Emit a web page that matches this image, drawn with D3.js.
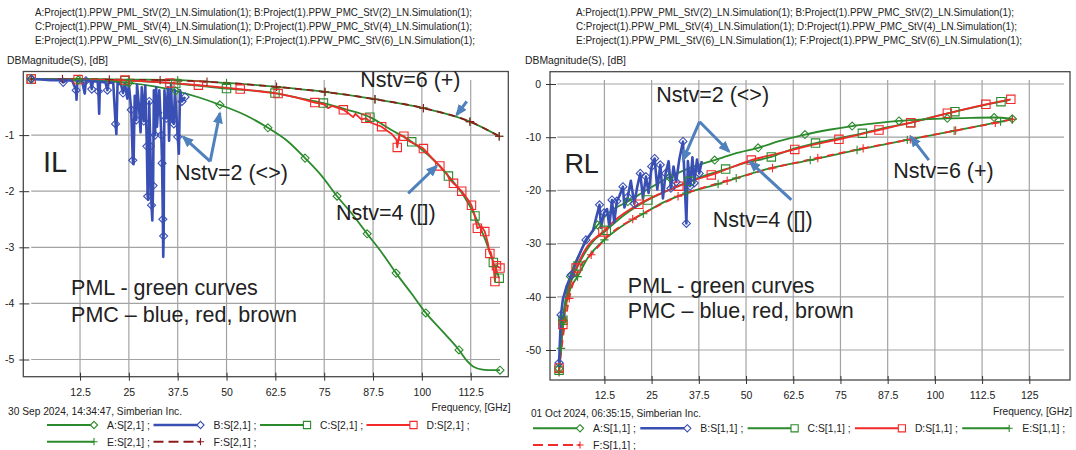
<!DOCTYPE html>
<html>
<head>
<meta charset="utf-8">
<script src="https://d3js.org/d3.v7.min.js"></script>
<style>
  body { margin: 0; background: #fff; }
  svg text { font-family: "Liberation Sans", Arial, sans-serif; fill: #222; }
</style>
</head>
<body>
<div class="chart"></div>
<script>

// ---------- data ----------
// each point: [frequency GHz, dB, marker?]

var headerLines = [
  "A:Project(1).PPW_PML_StV(2)_LN.Simulation(1); B:Project(1).PPW_PMC_StV(2)_LN.Simulation(1);",
  "C:Project(1).PPW_PML_StV(4)_LN.Simulation(1); D:Project(1).PPW_PMC_StV(4)_LN.Simulation(1);",
  "E:Project(1).PPW_PML_StV(6)_LN.Simulation(1); F:Project(1).PPW_PMC_StV(6)_LN.Simulation(1);"
];

var ilXTicks = [12.5, 25, 37.5, 50, 62.5, 75, 87.5, 100, 112.5];
var ilYTicks = [-1, -2, -3, -4, -5];
var rlXTicks = [12.5, 25, 37.5, 50, 62.5, 75, 87.5, 100, 112.5, 125];
var rlYTicks = [0, -10, -20, -30, -40, -50];

// insertion loss S[2,1]
var ilA = [[0,0,1],[12,-0.02,1],[25,-0.07,1],[37,-0.21,1],[43,-0.33,0],[48.3,-0.46,1],[55,-0.65,0],[60.6,-0.87,1],
  [65.5,-1.1,0],[70.1,-1.41,1],[74.5,-1.74,0],[78.3,-2.09,1],[82.3,-2.42,0],[86,-2.76,1],[89.8,-3.1,0],[93.4,-3.46,1],
  [97.3,-3.82,0],[101,-4.17,1],[105.3,-4.5,0],[109.5,-4.83,1],[111.5,-5.02,0],[113.2,-5.13,0],[115.5,-5.18,0],
  [118,-5.19,0],[120,-5.19,1]];

var ilB = [[0,0,1],[2.5,-0.01,0],[5,-0.02,0],[7.5,-0.02,0],[8.2,-0.06,1],[9,-0.02,0],[10.5,-0.03,0],[11.5,-0.2,1],
  [11.6,-0.37,0],[11.8,-0.04,0],[13,-0.03,0],[13.7,-0.26,0],[14,-0.03,1],[15.2,-0.04,0],[15.5,-0.18,1],[15.8,-0.04,0],
  [17,-0.05,0],[17.2,-0.22,1],[17.4,-0.62,0],[17.6,-0.05,0],[19,-0.06,0],[19.5,-0.2,1],[19.8,-0.06,0],[21,-0.07,0],
  [21.6,-0.8,1],[21.8,-0.98,0],[22.1,-0.08,0],[23,-0.1,0],[23.5,-0.25,1],[24,-0.08,0],[24.6,-0.35,0],[25,-0.1,0],
  [25.6,-0.55,1],[26,-1.45,1],[26.2,-1.52,0],[26.5,-0.3,0],[26.9,-0.73,1],[27.1,-0.1,0],[27.6,-0.5,1],[28,-0.95,0],
  [28.3,-0.15,0],[28.8,-0.75,1],[29.2,-0.12,0],[29.6,-1.2,1],[29.8,-2.09,1],[30,-2.15,0],[30.2,-0.4,1],[30.5,-1.2,1],
  [30.8,-2.25,1],[31,-2.52,0],[31.2,-1.9,1],[31.4,-0.2,0],[31.7,-1.0,1],[32,-0.15,0],[32.2,-0.85,0],[32.4,-0.6,1],
  [32.8,-0.2,0],[33.3,-1.0,1],[33.5,-1.5,1],[33.7,-2.5,1],[33.8,-3.17,0],[33.9,-2.8,1],[34.1,-0.2,0],[34.6,-0.7,1],
  [35,-0.15,0],[35.3,-1.1,0],[35.5,-0.55,1],[35.8,-0.1,0],[36.1,-0.75,0],[36.5,-0.8,1],[36.8,-0.2,0],[37.5,-1.03,1],
  [37.8,-1.33,0],[38.1,-0.2,0],[38.6,-0.4,1],[39.4,-0.32,1]];

var ilC = [[0,0,1],[12,-0.01,0],[24,-0.03,1],[37,-0.08,1],[50,-0.17,1],[62.4,-0.25,1],[68,-0.33,0],[74.8,-0.43,1],
  [80.5,-0.54,0],[86.7,-0.68,1],[92,-0.9,0],[97.4,-1.12,1],[102,-1.38,0],[106.8,-1.73,1],[110.5,-2.06,0],
  [113.6,-2.44,1],[116.2,-2.86,0],[118.3,-3.27,1],[119.8,-3.55,1]];

var ilD = [[0,0,1],[12,-0.01,1],[24,-0.02,1],[35.5,-0.07,1],[42.8,-0.11,1],[53.5,-0.18,1],[63.2,-0.26,1],[68,-0.33,0],
  [72.6,-0.42,1],[75,-0.45,0],[76,-0.52,0],[77,-0.48,0],[79.9,-0.55,1],[81,-0.6,0],[82.4,-0.68,0],[83,-0.62,0],
  [84.5,-0.72,0],[85.7,-0.7,1],[87,-0.78,0],[88.5,-0.82,0],[89.7,-0.85,1],[91,-0.92,0],[92.3,-0.98,0],[93.5,-1.08,0],
  [93.7,-1.22,1],[94.2,-1.0,0],[95.4,-1.02,1],[96.5,-1.1,0],[98.5,-1.17,0],[100.4,-1.24,1],[102.5,-1.4,0],
  [104.6,-1.55,1],[106.5,-1.7,0],[107,-1.78,0],[108.1,-1.86,1],[109,-1.92,0],[110.2,-2.0,1],[111.5,-2.12,0],
  [112.7,-2.25,1],[113.4,-2.4,0],[114.2,-2.66,1],[115.2,-2.62,0],[116.1,-2.72,1],[116.8,-2.9,0],[117.4,-3.11,1],
  [117.6,-3.08,0],[118.2,-3.25,0],[118.7,-3.61,1],[119.1,-3.33,1],[120,-3.37,1]];

var ilE = [[0,0,1],[12.5,0,1],[25,-0.01,1],[37.5,-0.02,1],[50,-0.07,1],[62.8,-0.14,1],[75.2,-0.23,1],[88,-0.36,1],
  [100.4,-0.52,1],[112.3,-0.76,1],[119.8,-1.02,1]];

var ilF = [[0,0,1],[8,0,1],[20,-0.01,1],[33,-0.02,1],[45,-0.05,1],[56,-0.1,0],[62.8,-0.14,1],[75.2,-0.23,1],
  [88,-0.36,1],[100.4,-0.52,1],[112.3,-0.76,1],[119.8,-1.02,1]];

// return loss S[1,1]
var rlA = [[0.5,-53.5,1],[1.5,-44.4,1],[3.5,-36.2,1],[6,-31.8,0],[8,-29.2,0],[10.7,-26.5,1],[14,-24,0],[18.7,-22.1,1],
  [24,-19.8,0],[29.7,-17.5,1],[35,-15.8,0],[41.7,-14.3,1],[47,-13.1,0],[53.2,-12.0,1],[59,-10.7,0],[65.6,-9.5,1],
  [72,-8.6,0],[78.1,-7.9,1],[84,-7.4,0],[90.5,-6.95,1],[97,-6.65,0],[103.3,-6.45,1],[109.5,-6.35,0],[115.7,-6.3,1],
  [120.5,-6.55,1]];

var rlB = [[0.5,-52.4,1],[0.8,-47,0],[1,-43.4,1],[1.5,-40.5,0],[2.5,-38,0],[3.7,-35.9,1],[5,-33.5,0],[6.5,-31,0],
  [7.6,-29.3,1],[8.5,-28.5,0],[9.5,-27.5,0],[10.2,-25.5,0],[11.2,-22.7,1],[11.6,-27.0,0],[12.4,-24.2,1],
  [13.2,-23.5,0],[13.8,-26.8,0],[14.5,-21.8,1],[15.1,-26.0,0],[15.8,-22,1],[16.5,-21.0,0],[17.4,-19.3,1],
  [17.8,-23.2,0],[18.7,-21.2,1],[19.5,-18.2,0],[20.4,-22.5,1],[21.2,-19.3,0],[22,-16.8,1],[22.7,-21.5,0],
  [23.5,-17.4,1],[24.2,-20.5,0],[25,-15.5,1],[25.8,-14.0,1],[26.5,-19.8,0],[27.3,-15.2,1],[28,-21.5,0],
  [28.7,-16.8,1],[29.5,-14.5,0],[30.1,-19.6,1],[30.8,-15.5,0],[31.5,-18.4,1],[32.3,-14.3,0],[33.3,-10.8,1],
  [33.7,-17.5,0],[34.2,-26.2,1],[34.6,-14.5,0],[35.2,-19.2,1],[35.8,-13.8,0],[36.3,-18.6,1],[37,-14.2,0],
  [37.6,-16.8,1],[38.3,-14.5,0]];

var rlC = [[0.5,-53.8,1],[1.5,-44.4,1],[3,-38.8,0],[5.5,-34.2,1],[9,-30,0],[13,-27.5,1],[18,-24.5,0],[24,-21.8,1],
  [30,-19.8,0],[35,-18.3,1],[40,-17,0],[44.6,-16.0,1],[50,-14.8,0],[56.7,-13.7,1],[62.5,-12.2,0],[68.4,-11.1,1],
  [74.5,-10.2,0],[80.8,-9.27,1],[87,-8.2,0],[93.6,-7.3,1],[99.5,-6.2,0],[105.3,-5.2,1],[111.5,-4.2,0],
  [117.5,-3.32,1],[119.8,-3.0,0]];

var rlD = [[0.5,-53.4,1],[1.5,-45.2,1],[3,-38.5,0],[5,-34.6,1],[8,-30.5,0],[12.1,-27.8,1],[16,-25.2,0],[21.6,-22.6,1],
  [27,-20.7,0],[32.2,-19.2,1],[36.5,-18.0,0],[40.8,-17.1,1],[46,-15.7,0],[51.4,-14.3,1],[57,-13.3,0],[62.9,-12.3,1],
  [68.5,-11.3,0],[74.6,-10.4,1],[80,-9.5,0],[85.2,-8.65,1],[89.5,-7.9,0],[93.6,-7.27,1],[98.5,-6.4,0],
  [103.3,-5.5,1],[108,-4.7,0],[113.5,-3.82,1],[117,-3.3,0],[120.1,-2.88,1]];

var rlE = [[0.5,-54.2,1],[1,-49.7,1],[2,-43,0],[3.5,-38.5,0],[5.4,-36.2,1],[8,-32.8,0],[12.5,-29.3,1],[17,-26.8,0],
  [22.8,-24.4,1],[28,-22.3,0],[34.2,-20.5,1],[42.6,-18.8,1],[47.4,-17.7,1],[55,-16.1,0],[67,-14.3,1],[79.4,-12.4,1],
  [92.7,-10.5,1],[105.1,-8.8,1],[117.4,-7.08,1],[120.5,-6.64,1]];

var rlF = [[0.5,-54,1],[1.2,-49.5,0],[3.2,-40.3,1],[6,-34.5,0],[9,-32.1,1],[14,-28.2,0],[20,-25.4,1],[27,-22.8,0],
  [32,-21.1,1],[39,-19.4,0],[45,-18.2,1],[57,-15.8,1],[69,-13.9,1],[81,-12.1,1],[93.5,-10.4,1],[105.5,-8.75,1],
  [116,-7.3,1],[120.5,-6.64,1]];

// annotation texts and arrows, in data units
var ilNotes = [
  { t: "IL", f: 3.0, db: -1.65, size: 29 },
  { t: "Nstv=2 (<>)", f: 36.8, db: -1.8, size: 21.5 },
  { t: "Nstv=6 (+)", f: 84.2, db: -0.14, size: 21.5 },
  { t: "Nstv=4 ([])", f: 78.0, db: -2.51, size: 21.5 },
  { t: "PML - green curves", f: 10.2, db: -3.85, size: 21.5 },
  { t: "PMC \u2013 blue, red, brown", f: 10.2, db: -4.33, size: 21.5 }
];
var ilArrows = [[45.8, -1.47, 38.9, -1.03], [45.8, -1.47, 48.3, -0.61], [111.5, -0.40, 108.9, -0.64], [96.5, -2.04, 103.8, -1.55]];

var rlNotes = [
  { t: "RL", f: 1.9, db: -16.8, size: 27 },
  { t: "Nstv=2 (<>)", f: 26.2, db: -3.3, size: 21.5 },
  { t: "Nstv=4 ([])", f: 41.2, db: -26.8, size: 21.5 },
  { t: "Nstv=6 (+)", f: 89.0, db: -17.7, size: 21.5 },
  { t: "PML - green curves", f: 18.7, db: -39.3, size: 21.5 },
  { t: "PMC \u2013 blue, red, brown", f: 18.7, db: -44.0, size: 21.5 }
];
var rlArrows = [[37.7, -7.09, 33.3, -14.3], [37.7, -7.09, 45.5, -12.7], [62.0, -21.8, 51.0, -14.6], [98.4, -14.3, 93.6, -9.9]];

// ---------- styles ----------
var GREEN = "#2b8a2b", BLUE = "#3a4fb4", RED = "#f22a2a", BROWN = "#8e1b1b";

var svg = d3.select(".chart")
  .append("svg")
  .attr("width", 1076)
  .attr("height", 450);

// arrow head for the annotation arrows
svg.append("defs").append("marker")
  .attr("id", "head")
  .attr("markerUnits", "userSpaceOnUse")
  .attr("markerWidth", 12).attr("markerHeight", 10)
  .attr("refX", 10).attr("refY", 5)
  .attr("orient", "auto")
  .append("path")
  .attr("d", "M0,0 L12,5 L0,10 Z")
  .attr("fill", "#4f81bd");

function fitText(sel, w) {
  sel.attr("textLength", w).attr("lengthAdjust", "spacingAndGlyphs");
}

function markerPath(kind, s) {
  if (kind == "diamond") return "M0," + (-s) + "L" + s + ",0L0," + s + "L" + (-s) + ",0Z";
  if (kind == "square") return "M" + (-s) + "," + (-s) + "h" + (2 * s) + "v" + (2 * s) + "h" + (-2 * s) + "Z";
  return "M" + (-s) + ",0h" + (2 * s) + "M0," + (-s) + "v" + (2 * s);
}

function build_panel(cfg) {
  var g = svg.append("g");
  var x = d3.scaleLinear().domain([0, cfg.xRef]).range(cfg.xRange);
  var y = d3.scaleLinear().domain([0, cfg.yRef]).range(cfg.yRange);
  var box = cfg.box;

  // header lines
  headerLines.forEach(function(line, i) {
    g.append("text")
      .attr("x", cfg.headX).attr("y", 15.5 + i * 14)
      .style("font-size", "11px")
      .text(line)
      .call(fitText, cfg.headW[i]);
  });

  g.append("text")
    .attr("x", cfg.dbX).attr("y", 63.5)
    .style("font-size", "11px")
    .text("DBMagnitude(S), [dB]")
    .call(fitText, 101);

  // grid
  g.selectAll(".vgrid").data(cfg.xTicks).enter().append("line")
    .attr("x1", function(d) { return x(d); }).attr("x2", function(d) { return x(d); })
    .attr("y1", 80).attr("y2", box.y1)
    .attr("stroke", "#a3a3a3").attr("stroke-width", 1.2);
  g.selectAll(".hgrid").data(cfg.yTicks).enter().append("line")
    .attr("x1", x(0)).attr("x2", x(cfg.gridXMax))
    .attr("y1", function(d) { return y(d); }).attr("y2", function(d) { return y(d); })
    .attr("stroke", "#a3a3a3").attr("stroke-width", 1.2);

  // frame
  g.append("rect")
    .attr("x", box.x0).attr("y", box.y0)
    .attr("width", box.x1 - box.x0).attr("height", box.y1 - box.y0)
    .attr("fill", "none").attr("stroke", "#4a4a4a").attr("stroke-width", 1.3);

  // axes
  var bottomAxis = d3.axisBottom(x).tickValues(cfg.xTicks).tickSize(4).tickPadding(8)
    .tickFormat(function(d) { return String(d); });
  var leftAxis = d3.axisLeft(y).tickValues(cfg.yTicks).tickSize(4).tickPadding(5)
    .tickFormat(function(d) { return String(d); });

  var xa = g.append("g").attr("transform", "translate(0," + box.y1 + ")").call(bottomAxis);
  xa.select(".domain").remove();
  xa.selectAll(".tick line").attr("y1", -4).attr("y2", 4).attr("stroke", "#333");
  xa.selectAll("text").style("font-size", "10.5px").style("font-family", "Liberation Sans, Arial").attr("fill", "#222");

  var ya = g.append("g").attr("transform", "translate(" + box.x0 + ",0)").call(leftAxis);
  ya.select(".domain").remove();
  ya.selectAll(".tick line").attr("x1", -4).attr("x2", 6).attr("stroke", "#333");
  ya.selectAll("text").style("font-size", "10.5px").style("font-family", "Liberation Sans, Arial").attr("fill", "#222");

  // axis title, natural width (about 79 px at 10px)
  g.append("text")
    .attr("x", cfg.freqX).attr("y", cfg.freqY)
    .attr("text-anchor", "end")
    .style("font-size", "10.2px")
    .text("Frequency, [GHz]");

  g.append("text")
    .attr("x", cfg.dateX).attr("y", cfg.dateY)
    .style("font-size", "11px")
    .text(cfg.date)
    .call(fitText, cfg.dateW);

  // curves
  var plot = g.append("g");
  cfg.series.forEach(function(s) {
    var line = d3.line()
      .x(function(d) { return x(d[0]); })
      .y(function(d) { return y(d[1]); })
      .curve(s.smooth ? d3.curveMonotoneX : d3.curveLinear);
    plot.append("path")
      .datum(s.data)
      .attr("d", line)
      .attr("fill", "none")
      .attr("stroke", s.color)
      .attr("stroke-width", s.width)
      .attr("stroke-dasharray", s.dash || null)
      .attr("stroke-linejoin", "round");
  });
  cfg.series.forEach(function(s) {
    plot.selectAll(null)
      .data(s.data.filter(function(d) { return d[2]; }))
      .enter().append("path")
      .attr("transform", function(d) { return "translate(" + x(d[0]) + "," + y(d[1]) + ")"; })
      .attr("d", markerPath(s.marker, s.marker == "diamond" ? 4 : 4.2))
      .attr("fill", "none")
      .attr("stroke", s.color)
      .attr("stroke-width", 1.1);
  });

  // legend
  var leg = cfg.legend;
  cfg.series.slice().sort(function(a, b) { return a.key < b.key ? -1 : 1; }).forEach(function(s, i) {
    var row = i < leg.perRow ? 0 : 1;
    var col = i < leg.perRow ? i : i - leg.perRow;
    var lx = leg.x + col * leg.step;
    var ly = leg.y[row];
    g.append("line")
      .attr("x1", lx).attr("x2", lx + 47)
      .attr("y1", ly).attr("y2", ly)
      .attr("stroke", s.color).attr("stroke-width", s.legendWidth || 2)
      .attr("stroke-dasharray", s.dash ? "10,5" : null);
    g.append("path")
      .attr("transform", "translate(" + (lx + 47) + "," + ly + ")")
      .attr("d", markerPath(s.marker, 3.6))
      .attr("fill", "#fff").attr("stroke", s.color).attr("stroke-width", 1.1);
    g.append("text")
      .attr("x", lx + 60).attr("y", ly + 4)
      .style("font-size", "11px")
      .text(s.key + ":" + cfg.sName + " ;")
      .call(fitText, 43);
  });

  // annotations
  cfg.arrows.forEach(function(a) {
    g.append("line")
      .attr("x1", x(a[0])).attr("y1", y(a[1]))
      .attr("x2", x(a[2])).attr("y2", y(a[3]))
      .attr("stroke", "#4f81bd").attr("stroke-width", 3)
      .attr("marker-end", "url(#head)");
  });
  cfg.notes.forEach(function(n) {
    g.append("text")
      .attr("x", x(n.f)).attr("y", y(n.db))
      .style("font-size", n.size + "px")
      .attr("fill", "#1e1e1e")
      .text(n.t);
  });
}

// left panel: insertion loss
build_panel({
  xRef: 120, xRange: [31.2, 500], yRef: -5, yRange: [79, 359.5],
  box: { x0: 23.3, x1: 508.3, y0: 71.5, y1: 376.7 },
  gridXMax: 120,
  xTicks: ilXTicks, yTicks: ilYTicks,
  headX: 35, headW: [437, 437, 440], dbX: 7,
  freqX: 510.5, freqY: 410.5,
  date: "30 Sep 2024, 14:34:47, Simberian Inc.", dateX: 8, dateY: 414.5, dateW: 174,
  sName: "S[2,1]",
  series: [
    { key: "E", data: ilE, color: GREEN, width: 1.8, marker: "plus", smooth: true },
    { key: "F", data: ilF, color: BROWN, width: 1.8, marker: "plus", smooth: true, dash: "7,5" },
    { key: "C", data: ilC, color: GREEN, width: 1.8, marker: "square", smooth: true },
    { key: "D", data: ilD, color: RED, width: 1.8, marker: "square", smooth: false },
    { key: "A", data: ilA, color: GREEN, width: 1.8, marker: "diamond", smooth: true },
    { key: "B", data: ilB, color: BLUE, width: 2.6, marker: "diamond", smooth: false, legendWidth: 2.6 }
  ],
  legend: { x: 47, step: 106.5, y: [425, 441.7], perRow: 4 },
  notes: ilNotes, arrows: ilArrows
});

// right panel: return loss
build_panel({
  xRef: 125, xRange: [557.2, 1029.3], yRef: -50, yRange: [84, 350],
  box: { x0: 550, x1: 1070, y0: 71.7, y1: 380 },
  gridXMax: 134.2,
  xTicks: rlXTicks, yTicks: rlYTicks,
  headX: 576, headW: [438, 441, 446], dbX: 525,
  freqX: 1072, freqY: 414.5,
  date: "01 Oct 2024, 06:35:15, Simberian Inc.", dateX: 531, dateY: 416.5, dateW: 170,
  sName: "S[1,1]",
  series: [
    { key: "E", data: rlE, color: GREEN, width: 1.8, marker: "plus", smooth: true },
    { key: "F", data: rlF, color: RED, width: 1.8, marker: "plus", smooth: true, dash: "7,5" },
    { key: "C", data: rlC, color: GREEN, width: 1.8, marker: "square", smooth: true },
    { key: "D", data: rlD, color: RED, width: 1.8, marker: "square", smooth: true },
    { key: "A", data: rlA, color: GREEN, width: 1.8, marker: "diamond", smooth: true },
    { key: "B", data: rlB, color: BLUE, width: 2.6, marker: "diamond", smooth: false, legendWidth: 2.6 }
  ],
  legend: { x: 533, step: 107.3, y: [428.3, 445], perRow: 5 },
  notes: rlNotes, arrows: rlArrows
});

</script>
</body>
</html>
